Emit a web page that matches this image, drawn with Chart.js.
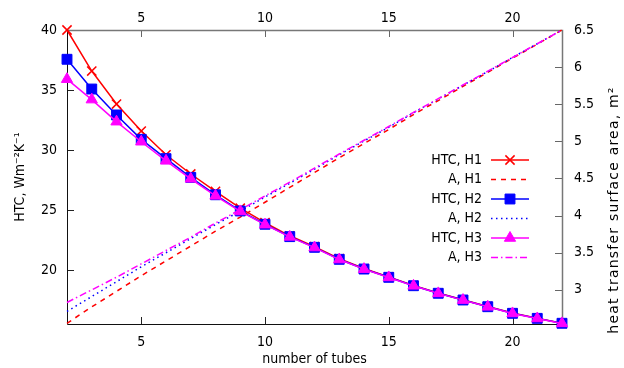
<!DOCTYPE html>
<html>
<head>
<meta charset="utf-8">
<script src="https://cdn.jsdelivr.net/npm/chart.js"></script>
<style>
html,body{margin:0;padding:0;background:#fff;}
canvas{display:block;}
</style>
</head>
<body>
<canvas id="c" width="624" height="368"></canvas>
<script>
// ---- data ----
const tubes = [2,3,4,5,6,7,8,9,10,11,12,13,14,15,16,17,18,19,20,21,22];
const htcH1 = [40.0,36.58,33.83,31.58,29.6,28.0,26.55,25.15,23.95,22.85,21.95,20.95,20.12,19.42,18.72,18.08,17.52,16.96,16.41,15.98,15.56];
const htcH2 = [37.56,35.08,32.92,30.89,29.28,27.72,26.27,24.92,23.81,22.78,21.89,20.89,20.08,19.39,18.69,18.06,17.5,16.94,16.39,15.97,15.56];
const htcH3 = [35.9,34.2,32.36,30.69,29.1,27.6,26.18,24.88,23.78,22.76,21.87,20.87,20.07,19.38,18.68,18.05,17.49,16.93,16.38,15.96,15.55];
const areaH1 = [2.55,2.77,2.98,3.19,3.39,3.59,3.79,3.98,4.18,4.38,4.58,4.78,4.97,5.16,5.36,5.55,5.74,5.93,6.12,6.31,6.50];
const areaH2 = [2.71,2.91,3.11,3.31,3.50,3.69,3.88,4.06,4.25,4.435,4.625,4.82,5.005,5.19,5.385,5.57,5.755,5.94,6.13,6.315,6.50];
const areaH3 = [2.83,3.00,3.17,3.35,3.53,3.71,3.90,4.08,4.265,4.45,4.64,4.83,5.015,5.20,5.39,5.575,5.76,5.945,6.13,6.315,6.50];
const seriesNames = ['HTC, H1','A, H1','HTC, H2','A, H2','HTC, H3','A, H3'];
const xTickValues = [5,10,15,20];
const yLeftTicks = [20,25,30,35,40];
const yRightTicks = [3,3.5,4,4.5,5,5.5,6,6.5];
const xTitle = 'number of tubes';
const yLeftTitle = 'HTC, Wm\u207B\u00B2K\u207B\u00B9';
const yRightTitle = 'heat transfer surface area, m\u00B2';

const FONT = "'DejaVu Sans Condensed', 'DejaVu Sans', sans-serif";
const pts = arr => tubes.map((t,i)=>({x:t, y:arr[i]}));

const RED='#ff0000', BLUE='#0000ff', MAG='#ff00ff';

const datasets = [
  {label:seriesNames[0], data:pts(htcH1), yAxisID:'y', borderColor:RED, backgroundColor:RED, borderWidth:1.5, pointStyle:'crossRot', pointRadius:6.5, pointBorderWidth:1.5, order:6},
  {label:seriesNames[1], data:pts(areaH1), yAxisID:'y2', borderColor:RED, backgroundColor:RED, borderWidth:1.5, borderDash:[5,5], pointRadius:0, order:5},
  {label:seriesNames[2], data:pts(htcH2), yAxisID:'y', borderColor:BLUE, backgroundColor:BLUE, borderWidth:1.5, pointStyle:'rect', pointRadius:7, pointBorderWidth:1, order:4},
  {label:seriesNames[3], data:pts(areaH2), yAxisID:'y2', borderColor:BLUE, backgroundColor:BLUE, borderWidth:1.5, borderDash:[1.5,3.5], pointRadius:0, order:3},
  {label:seriesNames[4], data:pts(htcH3), yAxisID:'y', borderColor:MAG, backgroundColor:MAG, borderWidth:1.5, pointStyle:'triangle', pointRadius:6.5, pointBorderWidth:1, order:2},
  {label:seriesNames[5], data:pts(areaH3), yAxisID:'y2', borderColor:MAG, backgroundColor:MAG, borderWidth:1.5, borderDash:[7,3,1.5,3], pointRadius:0, order:1},
].map(d=>Object.assign({tension:0, fill:false, clip:false}, d));

const tickFont = {family:FONT, size:14};
const setTicks = vals => (s => { s.ticks = vals.map(v=>({value:v})); });
const plainLabel = v => String(v);

// frame and inward tick marks
const framePlugin = {
  id:'frame',
  beforeDatasetsDraw(chart){
    const {ctx, chartArea:a, scales} = chart;
    ctx.save();
    ctx.lineWidth = 1;
    const L = 7;
    ctx.strokeStyle = '#222';
    ctx.beginPath();
    xTickValues.forEach(v=>{ const px=Math.round(scales.x.getPixelForValue(v))+0.5; ctx.moveTo(px,a.bottom); ctx.lineTo(px,a.bottom-L); });
    yLeftTicks.forEach(v=>{ const py=Math.round(scales.y.getPixelForValue(v))+0.5; ctx.moveTo(a.left,py); ctx.lineTo(a.left+L,py); });
    ctx.stroke();
    ctx.strokeStyle = '#666';
    ctx.beginPath();
    xTickValues.forEach(v=>{ const px=Math.round(scales.x2.getPixelForValue(v))+0.5; ctx.moveTo(px,a.top); ctx.lineTo(px,a.top+L); });
    yRightTicks.forEach(v=>{ const py=Math.round(scales.y2.getPixelForValue(v))+0.5; ctx.moveTo(a.right,py); ctx.lineTo(a.right-L,py); });
    ctx.stroke();
    // border
    const l=Math.round(a.left)+0.5, r=Math.round(a.right)+0.5, t=Math.round(a.top)+0.5, b=Math.round(a.bottom)+0.5;
    ctx.strokeStyle='#111';
    ctx.beginPath(); ctx.moveTo(l,t); ctx.lineTo(l,b); ctx.lineTo(r,b); ctx.stroke();
    ctx.strokeStyle='#777';
    ctx.lineWidth=1.5;
    ctx.beginPath(); ctx.moveTo(l,t); ctx.lineTo(r,t); ctx.lineTo(r,b); ctx.stroke();
    ctx.restore();
  },
  afterDraw(chart){
    const {ctx} = chart;
    ctx.save();
    ctx.fillStyle='#000';
    ctx.font = "14px 'DejaVu Sans', sans-serif";
    ctx.translate(614, 210);
    ctx.rotate(-Math.PI/2);
    ctx.textAlign='center';
    ctx.textBaseline='middle';
    try { ctx.letterSpacing = '1.2px'; } catch(e){}
    ctx.fillText(yRightTitle, 0, 0);
    ctx.restore();
  }
};

// legend drawn from dataset styles
const legendPlugin = {
  id:'keyBox',
  afterDraw(chart){
    const {ctx} = chart;
    ctx.save();
    chart.data.datasets.forEach((ds,i)=>{
      const y = 160 + i*19.5;
      ctx.fillStyle='#000';
      ctx.font = "14px " + FONT;
      ctx.textAlign='right';
      ctx.textBaseline='middle';
      ctx.fillText(ds.label, 482, y);
      ctx.strokeStyle = ds.borderColor;
      ctx.lineWidth = ds.borderWidth;
      ctx.setLineDash(ds.borderDash || []);
      ctx.beginPath(); ctx.moveTo(491, y); ctx.lineTo(529, y); ctx.stroke();
      ctx.setLineDash([]);
      if (ds.pointRadius > 0 && Chart.helpers && Chart.helpers.drawPoint) {
        ctx.fillStyle = ds.backgroundColor;
        ctx.strokeStyle = ds.borderColor;
        ctx.lineWidth = ds.pointBorderWidth;
        Chart.helpers.drawPoint(ctx, {pointStyle: ds.pointStyle, radius: ds.pointRadius, rotation:0, borderWidth: ds.pointBorderWidth}, 510, y);
      }
    });
    ctx.restore();
  }
};

new Chart(document.getElementById('c'), {
  type:'line',
  data:{datasets},
  options:{
    responsive:false,
    animation:false,
    layout:{padding:0},
    plugins:{legend:{display:false}, tooltip:{enabled:false}},
    scales:{
      x:{type:'linear', position:'bottom', min:2, max:22,
         afterBuildTicks:setTicks(xTickValues), afterFit:s=>{s.height=44;},
         grid:{display:false, drawTicks:false}, border:{display:false},
         ticks:{font:tickFont, color:'#000', padding:10, maxRotation:0, callback:plainLabel},
         title:{display:true, text:xTitle, font:{family:FONT,size:14}, color:'#000', padding:{top:0,bottom:0}}},
      x2:{type:'linear', position:'top', min:2, max:22,
         afterBuildTicks:setTicks(xTickValues), afterFit:s=>{s.height=30;},
         grid:{display:false, drawTicks:false}, border:{display:false},
         ticks:{font:tickFont, color:'#000', padding:3, maxRotation:0, callback:plainLabel}},
      y:{type:'linear', position:'left', min:15.5, max:40,
         afterBuildTicks:setTicks(yLeftTicks), afterFit:s=>{s.width=67;},
         grid:{display:false, drawTicks:false}, border:{display:false},
         ticks:{font:tickFont, color:'#000', padding:10, callback:plainLabel},
         title:{display:true, text:yLeftTitle, font:{family:FONT,size:14}, color:'#000', padding:{top:12,bottom:0}}},
      y2:{type:'linear', position:'right', min:2.54, max:6.5,
         afterBuildTicks:setTicks(yRightTicks), afterFit:s=>{s.width=62;},
         grid:{display:false, drawTicks:false}, border:{display:false},
         ticks:{font:tickFont, color:'#000', padding:12, callback:plainLabel}}
    }
  },
  plugins:[framePlugin, legendPlugin]
});
</script>
</body>
</html>
